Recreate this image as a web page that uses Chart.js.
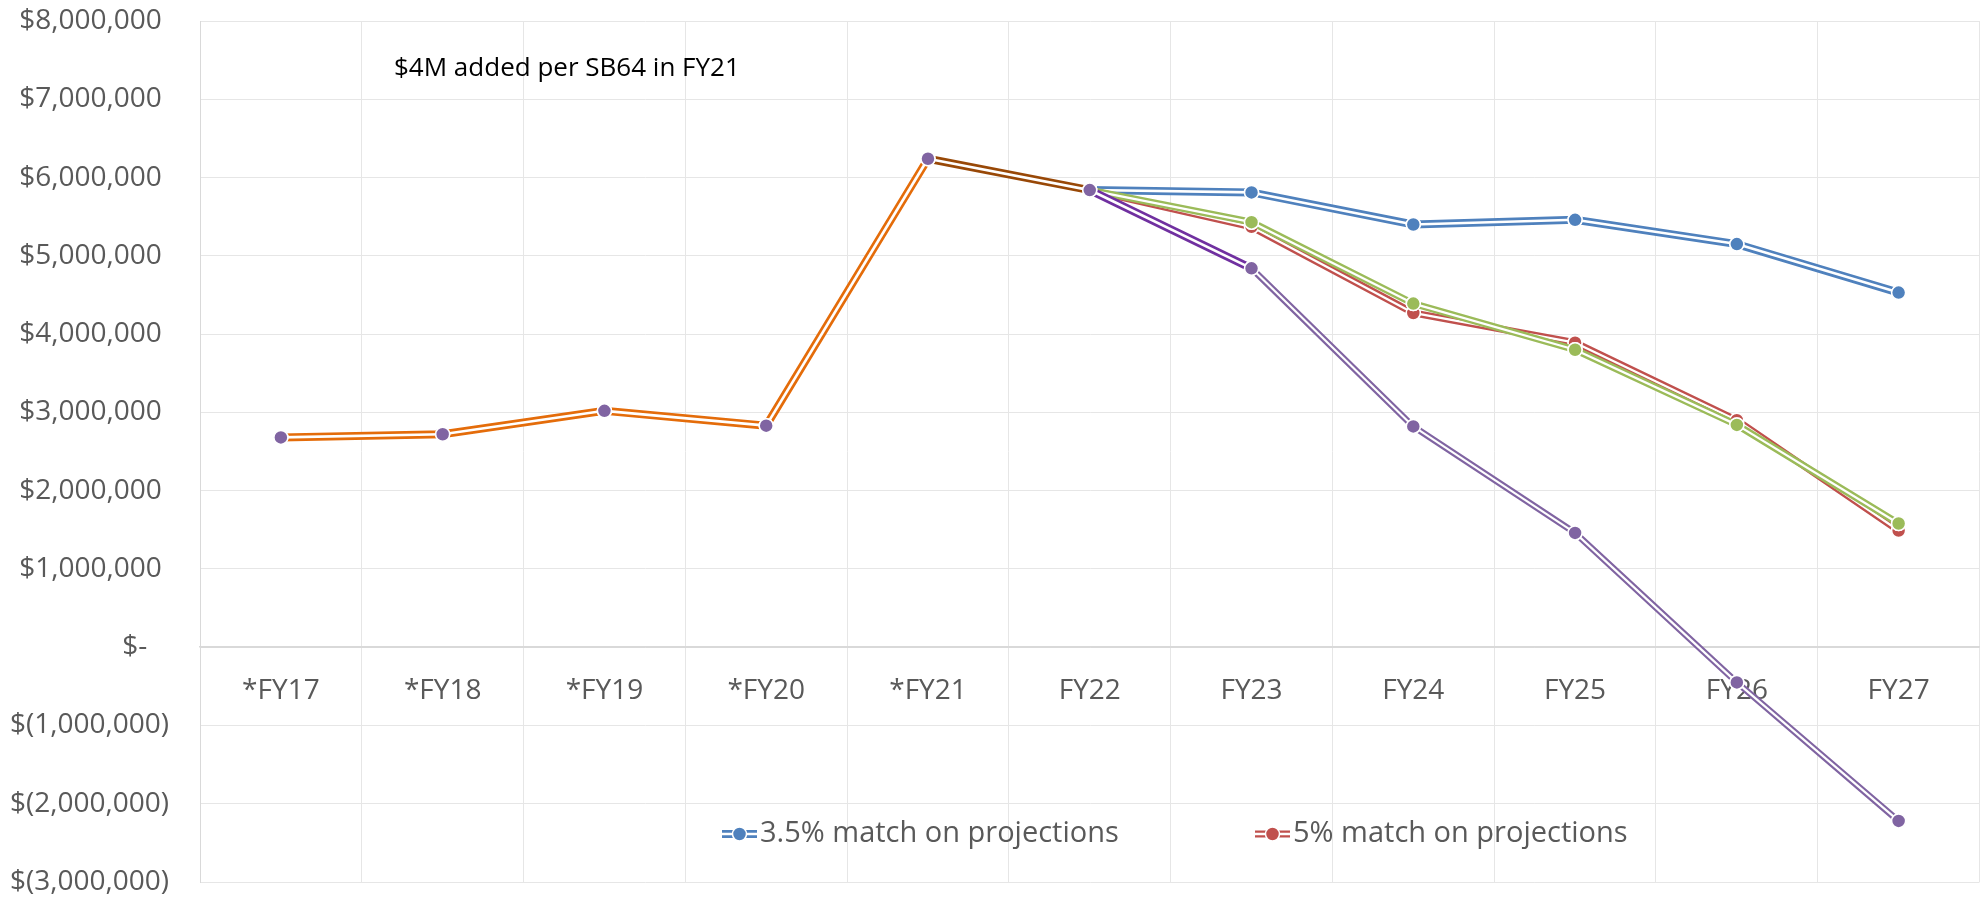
<!DOCTYPE html>
<html>
<head>
<meta charset="utf-8">
<title>Match on projections</title>
<script src="https://cdn.jsdelivr.net/npm/chart.js@4.4.1/dist/chart.umd.min.js"></script>
<style>
  html, body { margin: 0; padding: 0; background: #fff; }
</style>
</head>
<body>
<canvas id="chart" width="1988" height="898"></canvas>
<script>
// --- Data ---
const categories = ['*FY17', '*FY18', '*FY19', '*FY20', '*FY21', 'FY22', 'FY23', 'FY24', 'FY25', 'FY26', 'FY27'];
const actuals   = [2680000, 2720000, 3020000, 2830000, 6240000, 5840000, 4840000, 2820000, 1460000, -450000, -2220000];
const match35   = [null, null, null, null, null, 5840000, 5810000, 5400000, 5460000, 5150000, 4530000];
const match5    = [null, null, null, null, null, 5840000, 5370000, 4270000, 3890000, 2900000, 1490000];
const matchAlt  = [null, null, null, null, null, 5840000, 5430000, 4390000, 3800000, 2840000, 1580000];
const yMin = -3000000;
const yMax = 8000000;
const yStep = 1000000;
const noteText = '$4M added per SB64 in FY21';

// --- Colours ---
const BLUE = '#4f81bd';
const RED = '#c0504d';
const GREEN = '#9bbb59';
const PURPLE = '#8064a2';
const ORANGE = '#e46c0a';
const BROWN = '#984807';
const DARK_PURPLE = '#7030a0';
const TEXT = '#595959';
const GRID = '#e6e6e6';
const AXIS = '#d9d9d9';

Chart.defaults.font.family = "'Open Sans', 'Noto Sans', sans-serif";
Chart.defaults.font.size = 28;
Chart.defaults.color = TEXT;

function formatMoney(v) {
    if (v === 0) return '$-   ';
    const s = Math.abs(v).toLocaleString('en-US');
    return v < 0 ? '$(' + s + ')' : '$' + s + ' ';
}

// colour / width of each segment of the actuals line
function actualColor(i) {
    if (i < 4) return ORANGE;
    if (i === 4) return BROWN;
    if (i === 5) return DARK_PURPLE;
    return PURPLE;
}
function actualWidth(i) {
    return i < 6 ? 8 : 6.5;
}

// white centre stroke -> Excel "double" line look
const doubleLine = {
    id: 'doubleLine',
    afterDatasetDraw(chart, args) {
        const ds = chart.data.datasets[args.index];
        if (!ds.coreWidth) return;
        const ctx = chart.ctx;
        const pts = args.meta.data;
        const area = chart.chartArea;
        ctx.save();
        ctx.strokeStyle = '#ffffff';
        ctx.lineCap = 'butt';
        for (let i = 0; i < pts.length - 1; i++) {
            const a = pts[i], b = pts[i + 1];
            if (a.skip || b.skip) continue;
            ctx.lineWidth = typeof ds.coreWidth === 'function' ? ds.coreWidth(i) : ds.coreWidth;
            ctx.beginPath();
            ctx.moveTo(a.x, a.y);
            ctx.lineTo(b.x, b.y);
            ctx.stroke();
        }
        ctx.restore();
        pts.forEach(p => { if (!p.skip) p.draw(ctx, area); });
    }
};

// legend placed inside the plot, like the Excel original
const excelLegend = {
    id: 'excelLegend',
    afterDraw(chart, args, opts) {
        const { ctx, chartArea } = chart;
        const y = chartArea.bottom + opts.offsetY;
        ctx.save();
        opts.items.forEach(item => {
            const ds = chart.data.datasets[item.dataset];
            const x0 = chartArea.left + item.x;
            const w = 35;
            ctx.strokeStyle = ds.borderColor;
            ctx.lineWidth = ds.borderWidth;
            ctx.beginPath();
            ctx.moveTo(x0, y);
            ctx.lineTo(x0 + w, y);
            ctx.stroke();
            ctx.strokeStyle = '#ffffff';
            ctx.lineWidth = ds.coreWidth;
            ctx.beginPath();
            ctx.moveTo(x0, y);
            ctx.lineTo(x0 + w, y);
            ctx.stroke();
            ctx.beginPath();
            ctx.arc(x0 + w / 2, y, 7, 0, Math.PI * 2);
            ctx.fillStyle = ds.pointBackgroundColor;
            ctx.fill();
            ctx.lineWidth = 1.5;
            ctx.stroke();
            ctx.fillStyle = TEXT;
            ctx.font = "29px 'Open Sans', 'Noto Sans', sans-serif";
            ctx.textBaseline = 'middle';
            ctx.textAlign = 'left';
            ctx.fillText(ds.label, x0 + w + 3, y);
        });
        ctx.restore();
    }
};

const note = {
    id: 'note',
    afterDraw(chart) {
        const { ctx, chartArea } = chart;
        ctx.save();
        ctx.fillStyle = '#000000';
        ctx.font = "26px 'Open Sans', 'Noto Sans', sans-serif";
        ctx.textBaseline = 'alphabetic';
        ctx.fillText(noteText, chartArea.left + 194, chartArea.top + 55);
        ctx.restore();
    }
};

function lineSet(label, data, color, width, core, order) {
    return {
        label: label,
        data: data,
        borderColor: color,
        borderWidth: width,
        coreWidth: core,
        pointBackgroundColor: color,
        pointBorderColor: '#ffffff',
        pointBorderWidth: 1.5,
        pointRadius: 7,
        tension: 0,
        order: order
    };
}

const datasets = [
    lineSet('3.5% match on projections', match35, BLUE, 8, 2.6, 4),
    lineSet('5% match on projections', match5, RED, 7, 2.3, 3),
    lineSet('Alternate match on projections', matchAlt, GREEN, 7, 2.3, 2),
    Object.assign(lineSet('Actuals', actuals, PURPLE, 8, 2.6, 1), {
        coreWidth: i => actualWidth(i) / 3,
        segment: {
            borderColor: c => actualColor(c.p0DataIndex),
            borderWidth: c => actualWidth(c.p0DataIndex)
        }
    })
];

new Chart(document.getElementById('chart'), {
    type: 'line',
    data: { labels: categories, datasets: datasets },
    plugins: [doubleLine, excelLegend, note],
    options: {
        responsive: false,
        animation: false,
        layout: { padding: { top: 21, right: 6, bottom: 16, left: 0 } },
        plugins: {
            legend: { display: false },
            tooltip: { enabled: false },
            excelLegend: {
                offsetY: -48,
                items: [{ dataset: 0, x: 522 }, { dataset: 1, x: 1055 }]
            }
        },
        scales: {
            x: {
                type: 'category',
                position: { y: 0 },
                offset: true,
                grid: { offset: true, color: GRID, drawTicks: false },
                border: { color: AXIS, width: 1.5 },
                ticks: { padding: 27, color: TEXT, maxRotation: 0, autoSkip: false }
            },
            y: {
                min: yMin,
                max: yMax,
                ticks: {
                    stepSize: yStep,
                    padding: 0,
                    color: TEXT,
                    font: { size: 28, lineHeight: 1 },
                    callback: formatMoney
                },
                grid: {
                    color: c => c.tick.value === 0 ? AXIS : GRID,
                    drawTicks: true,
                    tickLength: 31,
                    tickColor: 'rgba(0,0,0,0)'
                },
                border: { color: AXIS },
                afterFit(scale) { scale.width = 200; }
            }
        }
    }
});
</script>
</body>
</html>
